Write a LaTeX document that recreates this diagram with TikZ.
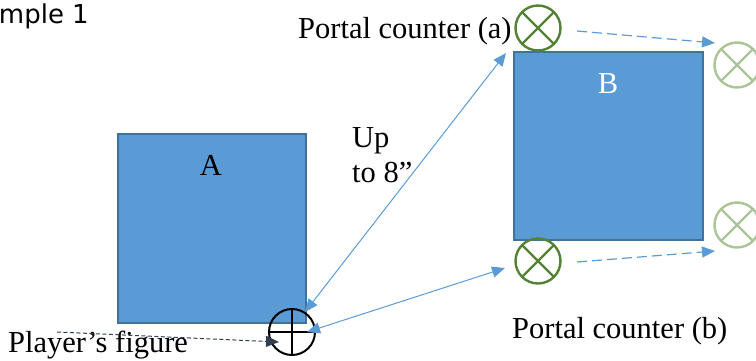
\documentclass[tikz,border=0pt]{standalone}
\usepackage{fontspec}
\setmainfont{Liberation Serif}
\newfontfamily\sansf{DejaVu Sans}
\usetikzlibrary{arrows.meta}
\definecolor{boxfill}{HTML}{5B9BD5}
\definecolor{boxedge}{HTML}{41719C}
\definecolor{pgreen}{HTML}{548235}
\definecolor{ghostgreen}{HTML}{A9C497}
\definecolor{linkblue}{HTML}{5B9BD5}
\definecolor{darkslate}{HTML}{333F50}
\tikzset{
  field/.style={draw=boxedge, fill=boxfill, line width=1.6pt, inner sep=0pt, anchor=north west},
  bigtext/.style={font=\fontsize{30.5}{35}\selectfont, inner sep=0pt},
  xcirc/.style={circle, draw=#1, line width=2.4pt, minimum size=45pt, inner sep=0pt,
    path picture={\draw[#1, line width=2.4pt]
      (path picture bounding box.north west) -- (path picture bounding box.south east)
      (path picture bounding box.north east) -- (path picture bounding box.south west);}},
  pcirc/.style={circle, draw=black, line width=2pt, minimum size=46pt, inner sep=0pt,
    path picture={\draw[black, line width=2pt]
      (path picture bounding box.north) -- (path picture bounding box.south)
      (path picture bounding box.west) -- (path picture bounding box.east);}},
  biarrow/.style={linkblue, line width=1pt, {Triangle[length=13pt,width=11pt]}-{Triangle[length=13pt,width=11pt]}},
  movearrow/.style={linkblue, line width=1.2pt, dash pattern=on 10pt off 5pt, -{Triangle[length=13pt,width=11pt]}},
  figarrow/.style={darkslate, line width=1pt, dash pattern=on 4pt off 2.5pt, -{Triangle[length=13pt,width=11pt]}},
}
\begin{document}
\begin{tikzpicture}[x=1pt,y=-1pt]
\useasboundingbox (0,0) rectangle (756,360);
% fields
\node[field, minimum width=188pt, minimum height=189pt] (A) at (117,133) {};
\node[field, minimum width=189pt, minimum height=188pt] (B) at (513,51) {};
\node[bigtext, anchor=base] (Alab) at (211,175) {A};
\node[bigtext, anchor=base, text=white] (Blab) at (608,93) {B};
% circles
\node[xcirc=pgreen] (pa) at (538,28) {};
\node[xcirc=pgreen] (pb) at (538,261) {};
\node[xcirc=ghostgreen] (ga) at (737,65) {};
\node[xcirc=ghostgreen] (gb) at (737,225) {};
\node[pcirc] (pl) at (292,332) {};
% texts
\node[font=\sansf\fontsize{26}{30}\selectfont, anchor=base east, inner sep=0pt] (title) at (89,23) {mple 1};
\node[bigtext, anchor=base west] (pat) at (298,38) {Portal counter (a)};
\node[bigtext, anchor=base west] (pbt) at (512,338) {Portal counter (b)};
\node[bigtext, anchor=base west] (plt) at (8,352) {Player’s figure};
\node[bigtext, anchor=base west] (up1) at (352,147) {Up};
\node[bigtext, anchor=base west] (up2) at (352,182) {to 8”};
% connectors
\coordinate (a1) at (305,312);
\coordinate (a2) at (506,53);
\coordinate (b1) at (307,332);
\coordinate (b2) at (505,268);
\draw[biarrow] (a1) -- (a2);
\draw[biarrow] (b1) -- (b2);
\coordinate (ma1) at (577,31);
\coordinate (ma2) at (715,43);
\coordinate (mb1) at (577,262);
\coordinate (mb2) at (715,251);
\draw[movearrow] (ma1) -- (ma2);
\draw[movearrow] (mb1) -- (mb2);
\coordinate (f1) at (57,332);
\coordinate (f2) at (279,342);
\draw[figarrow] (f1) -- (f2);
\end{tikzpicture}
\end{document}
